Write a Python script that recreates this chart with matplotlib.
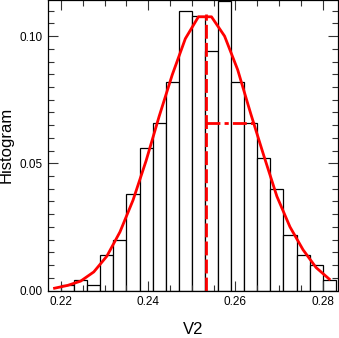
import matplotlib
matplotlib.use("Agg")
import matplotlib.pyplot as plt
from matplotlib.ticker import MultipleLocator
import numpy as np

plt.rcParams['font.family'] = ['Liberation Sans', 'DejaVu Sans']

# histogram: counts per bin out of 500 samples, bins of width 0.003 from 0.220
bin_start = 0.220
bin_width = 0.003
counts = [1, 2, 1, 7, 10, 19, 28, 33, 41, 55, 54, 47, 57, 41, 33, 26, 20, 11, 7, 5, 2]
n_total = 500

# red curve read at bin centres (0.2185 ... 0.2815)
curve_x = [0.2185, 0.2215, 0.2245, 0.2275, 0.2305, 0.2335, 0.2365, 0.2395,
           0.2425, 0.2455, 0.2485, 0.2515, 0.2545, 0.2575, 0.2605, 0.2635,
           0.2665, 0.2695, 0.2725, 0.2755, 0.2785, 0.2815]
curve_y = [0.0009, 0.0020, 0.0037, 0.0073, 0.0135, 0.0230, 0.0355, 0.0510,
           0.0685, 0.0848, 0.0990, 0.1076, 0.1076, 0.1000, 0.0868, 0.0695,
           0.0530, 0.0370, 0.0250, 0.0160, 0.0090, 0.0045]

# mean marker and 1-sigma marker
mean_x = 0.2532
mean_top = 0.1085
sigma_x = 0.2645
sigma_level = 0.0659

edges = [bin_start + i * bin_width for i in range(len(counts))]
frac = [c / n_total for c in counts]

fig = plt.figure(figsize=(3.39, 3.38), dpi=100)
ax = fig.add_axes([48 / 339, 47.5 / 338, 289.5 / 339, 290.5 / 338])

ax.bar(edges, frac, width=bin_width, align='edge', color='white',
       edgecolor='black', linewidth=0.9)
ax.plot(curve_x, curve_y, color='red', linewidth=2)
ax.plot([mean_x, mean_x], [0, mean_top], color='red', linewidth=2,
        linestyle=(0, (5, 1.5)))
ax.plot([mean_x, sigma_x], [sigma_level, sigma_level], color='red',
        linewidth=2, linestyle=(0, (5, 1.5, 1.5, 1.5)))

ax.set_xlim(0.2170, 0.2834)
ax.set_ylim(0, 0.1142)

ax.xaxis.set_major_locator(MultipleLocator(0.02))
ax.xaxis.set_minor_locator(MultipleLocator(0.005))
ax.yaxis.set_major_locator(MultipleLocator(0.05))
ax.yaxis.set_minor_locator(MultipleLocator(0.005))
ax.xaxis.set_major_formatter(plt.FuncFormatter(lambda v, p: "%.2f" % v))
ax.yaxis.set_major_formatter(plt.FuncFormatter(lambda v, p: "%.2f" % v))

ax.tick_params(which='both', direction='in', top=True, right=True,
               labelsize=8.5, width=0.8, color='#333333', pad=4)
ax.tick_params(which='major', length=7)
ax.tick_params(which='minor', length=4.5)

for s in ax.spines.values():
    s.set_linewidth(0.9)

ax.set_xlabel("V2", fontsize=12)
ax.set_ylabel("Histogram", fontsize=12)
ax.xaxis.set_label_coords(0.5, -0.108)
ax.yaxis.set_label_coords(-0.118, 0.5)

fig.savefig("out.png", dpi=100)
